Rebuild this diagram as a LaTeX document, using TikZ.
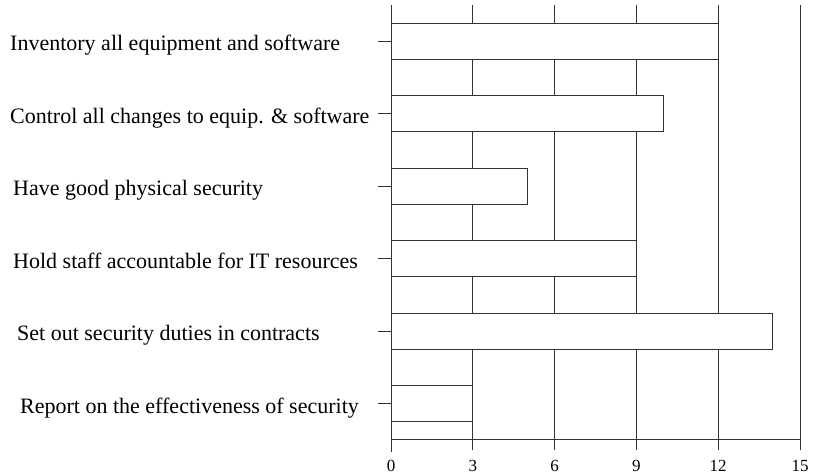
\documentclass[tikz,border=0pt]{standalone}
\usepackage{fontspec}
\setmainfont{Liberation Serif}
\usetikzlibrary{positioning}

\begin{document}
\begin{tikzpicture}[x=1pt, y=-1pt,
    axisline/.style={draw=black!80, line width=0.9pt},
    barbox/.style={draw=black!80, line width=0.9pt, fill=white},
    catlabel/.style={anchor=base west, inner sep=0pt, font=\fontsize{22}{26}\selectfont},
    numlabel/.style={anchor=base, inner sep=0pt, font=\fontsize{17}{20}\selectfont}]
    \useasboundingbox (0,0) rectangle (815,476);

    % vertical grid lines, running down into the ticks
    \foreach \v in {3,6,...,15}
        \draw[axisline] (391+27.27*\v, 5) -- (391+27.27*\v, 450);

    % the bars
    \foreach \i/\v in {1/12, 2/10, 3/5, 4/9, 5/14, 6/3} {
        \pgfmathsetmacro{\c}{41+72.5*(\i-1)}
        \draw[barbox] (391, \c-18) rectangle (391+27.27*\v, \c+18);
    }

    % axes
    \coordinate (top) at (391,5);
    \coordinate (origin) at (391,439.5);
    \coordinate (xend) at (800,439.5);
    \draw[axisline] (top) -- (391,452);
    \draw[axisline] (origin) -- (xend);

    % categories
    \node[catlabel] (inventory) at (10,51) {Inventory all equipment and software};
    \node[catlabel] (control) at (10,123.5) {Control all changes to equip. \& software};
    \node[catlabel] (physical) at (13,196) {Have good physical security};
    \node[catlabel] (staff) at (13,268.5) {Hold staff accountable for IT resources};
    \node[catlabel] (contracts) at (17,341) {Set out security duties in contracts};
    \node[catlabel] (report) at (20,413.5) {Report on the effectiveness of security};

    \foreach \i in {1,...,6} {
        \pgfmathsetmacro{\c}{41+72.5*(\i-1)}
        \draw[axisline] (378,\c) -- (391,\c);
    }

    % scale
    \foreach \v in {0,3,...,15}
        \node[numlabel] (n\v) at (391+27.27*\v, 471) {\v};
\end{tikzpicture}
\end{document}
